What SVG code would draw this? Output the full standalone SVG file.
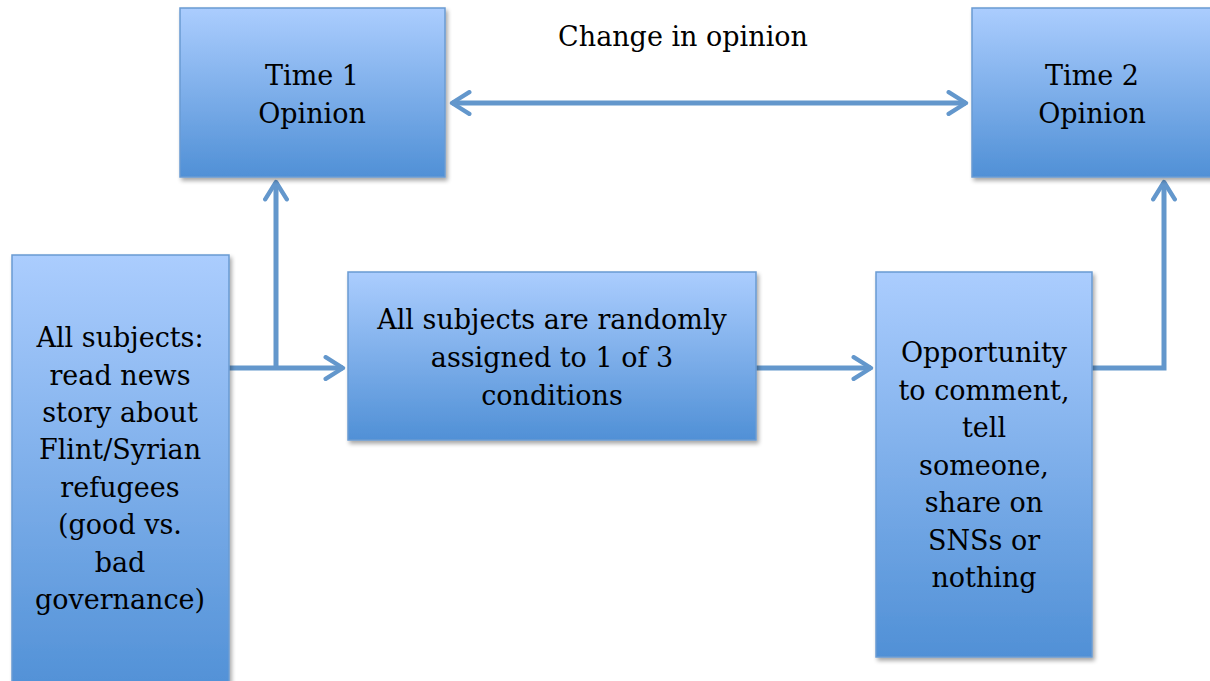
<svg xmlns="http://www.w3.org/2000/svg" width="1210" height="681" viewBox="0 0 1210 681">
<defs>
<linearGradient id="g" x1="0" y1="0" x2="0" y2="1">
<stop offset="0" stop-color="#abcdfe"/>
<stop offset="1" stop-color="#5090d6"/>
</linearGradient>
<filter id="sh" x="-10%" y="-10%" width="130%" height="130%">
<feGaussianBlur in="SourceAlpha" stdDeviation="2"/>
<feOffset dx="2" dy="3" result="b"/>
<feComponentTransfer><feFuncA type="linear" slope="0.35"/></feComponentTransfer>
<feMerge><feMergeNode/><feMergeNode in="SourceGraphic"/></feMerge>
</filter>
<marker id="ah" viewBox="0 0 12 12" refX="10" refY="6" markerWidth="5.2" markerHeight="5.2" markerUnits="strokeWidth" orient="auto-start-reverse">
<path d="M2,1 L10,6 L2,11" fill="none" stroke="#6397cc" stroke-width="2" stroke-linecap="round" stroke-linejoin="round"/>
</marker>
</defs>
<style>
.box{fill:url(#g);stroke:#6a9bd2;stroke-width:1.5;filter:url(#sh)}
.t{font-family:"DejaVu Serif","Liberation Serif",serif;font-size:27px;fill:#000;text-anchor:middle}
.c{fill:none;stroke:#6397cc;stroke-width:5}
</style>
<g id="connectors">
<line class="c" x1="452" y1="103" x2="966" y2="103" marker-start="url(#ah)" marker-end="url(#ah)"/>
<line class="c" x1="229" y1="368" x2="343" y2="368" marker-end="url(#ah)"/>
<line class="c" x1="276" y1="368" x2="276" y2="182" marker-end="url(#ah)"/>
<line class="c" x1="756" y1="368" x2="871" y2="368" marker-end="url(#ah)"/>
<polyline class="c" points="1092,368 1164,368 1164,182" marker-end="url(#ah)"/>
</g>
<g id="time1">
<rect class="box" x="180" y="8" width="265" height="169"/>
<text class="t" x="312" y="85">Time 1</text>
<text class="t" x="312" y="123">Opinion</text>
</g>
<g id="time2">
<rect class="box" x="972" y="8" width="250" height="169"/>
<text class="t" x="1092" y="85">Time 2</text>
<text class="t" x="1092" y="123">Opinion</text>
</g>
<g id="label">
<text class="t" x="683" y="46">Change in opinion</text>
</g>
<g id="subjects">
<rect class="box" x="12" y="255" width="217" height="440"/>
<text class="t" x="120" y="347">All subjects:</text>
<text class="t" x="120" y="385">read news</text>
<text class="t" x="120" y="422">story about</text>
<text class="t" x="120" y="459">Flint/Syrian</text>
<text class="t" x="120" y="497">refugees</text>
<text class="t" x="120" y="534">(good vs.</text>
<text class="t" x="120" y="572">bad</text>
<text class="t" x="120" y="609">governance)</text>
</g>
<g id="assign">
<rect class="box" x="348" y="272" width="408" height="168"/>
<text class="t" x="552" y="329">All subjects are randomly</text>
<text class="t" x="552" y="367">assigned to 1 of 3</text>
<text class="t" x="552" y="405">conditions</text>
</g>
<g id="opportunity">
<rect class="box" x="876" y="272" width="216" height="385"/>
<text class="t" x="984" y="362">Opportunity</text>
<text class="t" x="984" y="400">to comment,</text>
<text class="t" x="984" y="437">tell</text>
<text class="t" x="984" y="475">someone,</text>
<text class="t" x="984" y="512">share on</text>
<text class="t" x="984" y="550">SNSs or</text>
<text class="t" x="984" y="587">nothing</text>
</g>
</svg>
